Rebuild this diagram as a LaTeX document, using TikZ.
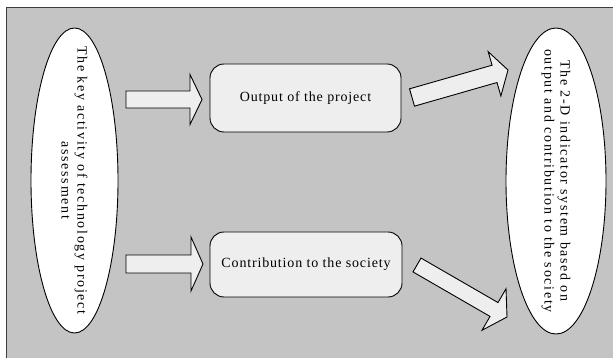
\documentclass[tikz,border=0pt]{standalone}
\usepackage{fontspec}
\setmainfont{Liberation Serif}
\newfontfamily\spacedserif[LetterSpace=6]{Liberation Serif}
\newfontfamily\widespacedserif[LetterSpace=12]{Liberation Serif}
\usetikzlibrary{calc,shapes.geometric}
\definecolor{bggray}{RGB}{196,196,196}
\definecolor{boxgray}{RGB}{238,238,238}
\definecolor{framegray}{RGB}{60,60,60}
\newcommand\blockarrow[5]{%
  \coordinate (ba-h) at ($(#2)!#5!(#1)$);
  \draw[arrowbox] ($(#1)!#3!90:(#2)$) -- ($(ba-h)!#3!-90:(#1)$) -- ($(ba-h)!#4!-90:(#1)$) -- (#2)
    -- ($(ba-h)!#4!90:(#1)$) -- ($(ba-h)!#3!90:(#1)$) -- ($(#1)!#3!-90:(#2)$) -- cycle;
}
\tikzset{
  oval/.style={ellipse, draw=black, line width=0.9pt, fill=white, inner sep=0pt},
  ovaltext/.style={rotate=-90, align=center, inner sep=0pt,
    font=\widespacedserif\fontsize{14}{16}\selectfont},
  roundbox/.style={rectangle, rounded corners=14pt, draw=black, line width=0.9pt,
    fill=boxgray, font=\spacedserif\fontsize{14}{16}\selectfont},
  arrowbox/.style={draw=black, line width=0.9pt, fill=boxgray, line join=miter},
}
\begin{document}
\begin{tikzpicture}[x=1pt,y=-1pt]
\useasboundingbox (0,0) rectangle (613,358);
\fill[white] (0,0) rectangle (613,358);
\fill[bggray] (6.5,7.5) rectangle (613,358);
\draw[framegray, line width=1pt] (6.5,358) -- (6.5,7.5) -- (613,7.5);

\node[oval, minimum width=87pt, minimum height=305pt] (left) at (74.5,180.5) {};
\node[ovaltext] (lefttext) at (left.center)
  {The key activity of technology project\\assessment};
\node[oval, minimum width=100pt, minimum height=306pt] (right) at (556,181) {};
\node[ovaltext] (righttext) at (right.center)
  {The 2-D indicator system based on\\output and contribution to the society};

\node[roundbox, minimum width=191pt, minimum height=68pt] (out) at (305.5,98) {Output of the project};
\node[roundbox, minimum width=192pt, minimum height=65pt] (soc) at (306,264.5) {Contribution to the society};

\coordinate (t1) at (126,99.5);  \coordinate (p1) at (202,99.5);
\coordinate (t2) at (126,264);   \coordinate (p2) at (203,264);
\coordinate (t3) at (412,97.5);  \coordinate (p3) at (508,70);
\coordinate (t4) at (417,265);   \coordinate (p4) at (507,317);

\blockarrow{t1}{p1}{8.5pt}{25pt}{12pt}
\blockarrow{t2}{p2}{9pt}{27pt}{12pt}
\blockarrow{t3}{p3}{9pt}{23pt}{14pt}
\blockarrow{t4}{p4}{8pt}{24pt}{15pt}
\end{tikzpicture}
\end{document}
